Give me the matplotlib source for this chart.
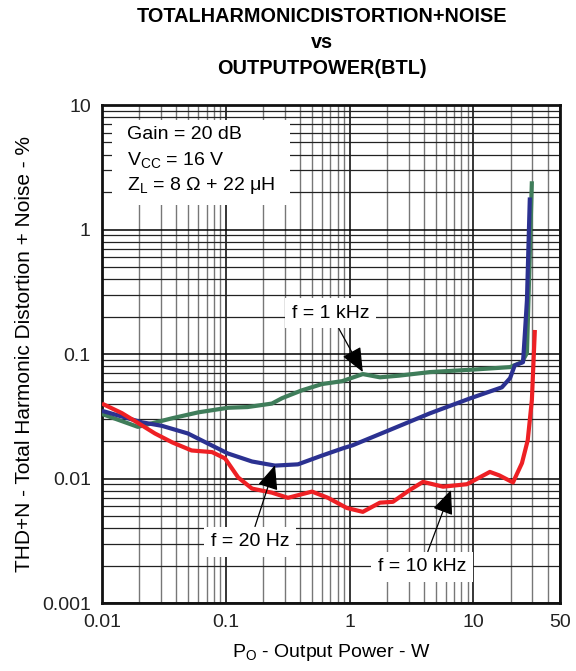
import numpy as np
import matplotlib
matplotlib.use("Agg")
import matplotlib.pyplot as plt
from matplotlib.patches import Rectangle

plt.rcParams['font.family'] = ['Liberation Sans', 'DejaVu Sans']
plt.rcParams['mathtext.fontset'] = 'custom'
plt.rcParams['mathtext.rm'] = 'Liberation Sans'

# --- data (output power W, THD+N %) ---
p_1k = [0.01, 0.0195, 0.037, 0.06, 0.104, 0.15, 0.236, 0.285, 0.41, 0.6, 0.87,
        1.28, 1.76, 2.5, 4.46, 10, 19.8, 24.7, 27.1, 29.7]
thd_1k = [0.033, 0.026, 0.0305, 0.034, 0.037, 0.0375, 0.040, 0.0442, 0.051, 0.0574, 0.0605,
          0.069, 0.065, 0.067, 0.0716, 0.075, 0.0785, 0.086, 0.102, 2.44]

p_20 = [0.01, 0.021, 0.0305, 0.0495, 0.0718, 0.104, 0.163, 0.25, 0.383, 0.6, 0.885,
        1.06, 2.0, 4.46, 9.4, 17, 19.8, 21.6, 25.2, 26.1, 27.1, 28.6]
thd_20 = [0.035, 0.0283, 0.0265, 0.023, 0.0191, 0.0159, 0.0137, 0.0127, 0.013, 0.0153, 0.0175,
          0.0185, 0.024, 0.0334, 0.044, 0.054, 0.064, 0.081, 0.086, 0.148, 0.27, 1.81]

p_10k = [0.01, 0.0145, 0.0195, 0.0268, 0.037, 0.053, 0.0775, 0.0987, 0.126, 0.163, 0.236,
         0.318, 0.497, 0.67, 0.95, 1.28, 1.76, 2.24, 3.07, 3.92, 5.69, 8.87, 13.6, 16.2,
         20.9, 24.7, 27.5, 29.7, 31.4]
thd_10k = [0.040, 0.0335, 0.028, 0.023, 0.0195, 0.0168, 0.0163, 0.0145, 0.0102, 0.0083, 0.0077,
           0.0070, 0.00785, 0.0070, 0.0058, 0.0054, 0.0064, 0.0065, 0.0081, 0.0094, 0.0086,
           0.009, 0.0113, 0.0106, 0.0093, 0.0133, 0.0203, 0.0426, 0.156]

x_ticks = [0.01, 0.1, 1, 10, 50]
x_tick_labels = ['0.01', '0.1', '1', '10', '50']
y_ticks = [0.001, 0.01, 0.1, 1, 10]
y_tick_labels = ['0.001', '0.01', '0.1', '1', '10']

fig = plt.figure(figsize=(5.76, 6.71), dpi=100)
ax = fig.add_axes([0.177, 0.1013, 0.795, 0.7422])

ax.plot(p_1k, thd_1k, color='#3f7d5a', lw=3, solid_capstyle='butt', zorder=3)
ax.plot(p_20, thd_20, color='#2b3191', lw=3, solid_capstyle='butt', zorder=3)
ax.plot(p_10k, thd_10k, color='#ee2024', lw=3, solid_capstyle='butt', zorder=3)

ax.set_xscale('log')
ax.set_yscale('log')
ax.set_xlim(0.01, 50)
ax.set_ylim(0.001, 10)
ax.set_xticks(x_ticks)
ax.set_xticklabels(x_tick_labels)
ax.set_yticks(y_ticks)
ax.set_yticklabels(y_tick_labels)
ax.xaxis.set_minor_locator(matplotlib.ticker.LogLocator(base=10, subs=np.arange(2, 10)))
ax.yaxis.set_minor_locator(matplotlib.ticker.LogLocator(base=10, subs=np.arange(2, 10)))
ax.xaxis.set_minor_formatter(matplotlib.ticker.NullFormatter())
ax.yaxis.set_minor_formatter(matplotlib.ticker.NullFormatter())
ax.tick_params(which='both', length=0, labelsize=14, pad=8, colors='#222222')

ax.grid(True, which='major', color='black', lw=1.1)
ax.xaxis.grid(True, which='minor', color='#777777', lw=1.0)
ax.yaxis.grid(True, which='minor', color='#222222', lw=0.9)
for s in ax.spines.values():
    s.set_linewidth(2)
    s.set_color('#111111')

# condition box top-left
ax.add_patch(Rectangle((0.022, 0.80), 0.388, 0.17, transform=ax.transAxes,
                       facecolor='white', edgecolor='none', zorder=2.5))
ax.text(0.055, 0.94, 'Gain = 20 dB', transform=ax.transAxes, fontsize=14,
        va='center', zorder=4)
ax.text(0.055, 0.89, r'$\mathregular{V_{CC}}$ = 16 V', transform=ax.transAxes, fontsize=14,
        va='center', zorder=4)
ax.text(0.055, 0.838, r'$\mathregular{Z_L}$ = 8 Ω + 22 μH', transform=ax.transAxes, fontsize=14,
        va='center', zorder=4)

box = dict(boxstyle='square,pad=0.35', facecolor='white', edgecolor='none')
arrow = dict(arrowstyle='-|>,head_length=0.75,head_width=0.32', color='black', lw=0.9,
             mutation_scale=20, shrinkA=0, shrinkB=0)
ax.annotate('f = 1 kHz', xy=(1.28, 0.0716), xytext=(0.70, 0.213), fontsize=14,
            ha='center', va='center', bbox=box, arrowprops=arrow, zorder=5)
ax.annotate('f = 20 Hz', xy=(0.25, 0.0128), xytext=(0.157, 0.0031), fontsize=14,
            ha='center', va='center', bbox=box, arrowprops=arrow, zorder=5)
ax.annotate('f = 10 kHz', xy=(6.6, 0.0081), xytext=(3.85, 0.00195), fontsize=14,
            ha='center', va='center', bbox=box, arrowprops=arrow, zorder=5)

ax.set_xlabel(r'$\mathregular{P_O}$ - Output Power - W', fontsize=14, labelpad=8)
ax.set_ylabel('THD+N - Total Harmonic Distortion + Noise - %', fontsize=15, labelpad=6)

title_font = ['Liberation Sans Narrow', 'Liberation Sans']
fig.text(0.559, 1 - 17 / 671, 'TOTALHARMONICDISTORTION+NOISE', fontsize=14.3,
         fontweight='bold', family=title_font, ha='center', va='center')
fig.text(0.559, 1 - 43 / 671, 'vs', fontsize=14.3, fontweight='bold', family=title_font,
         ha='center', va='center')
fig.text(0.559, 1 - 69 / 671, 'OUTPUTPOWER(BTL)', fontsize=14.3, fontweight='bold',
         family=title_font, ha='center', va='center')

fig.savefig('out.png', dpi=100)
